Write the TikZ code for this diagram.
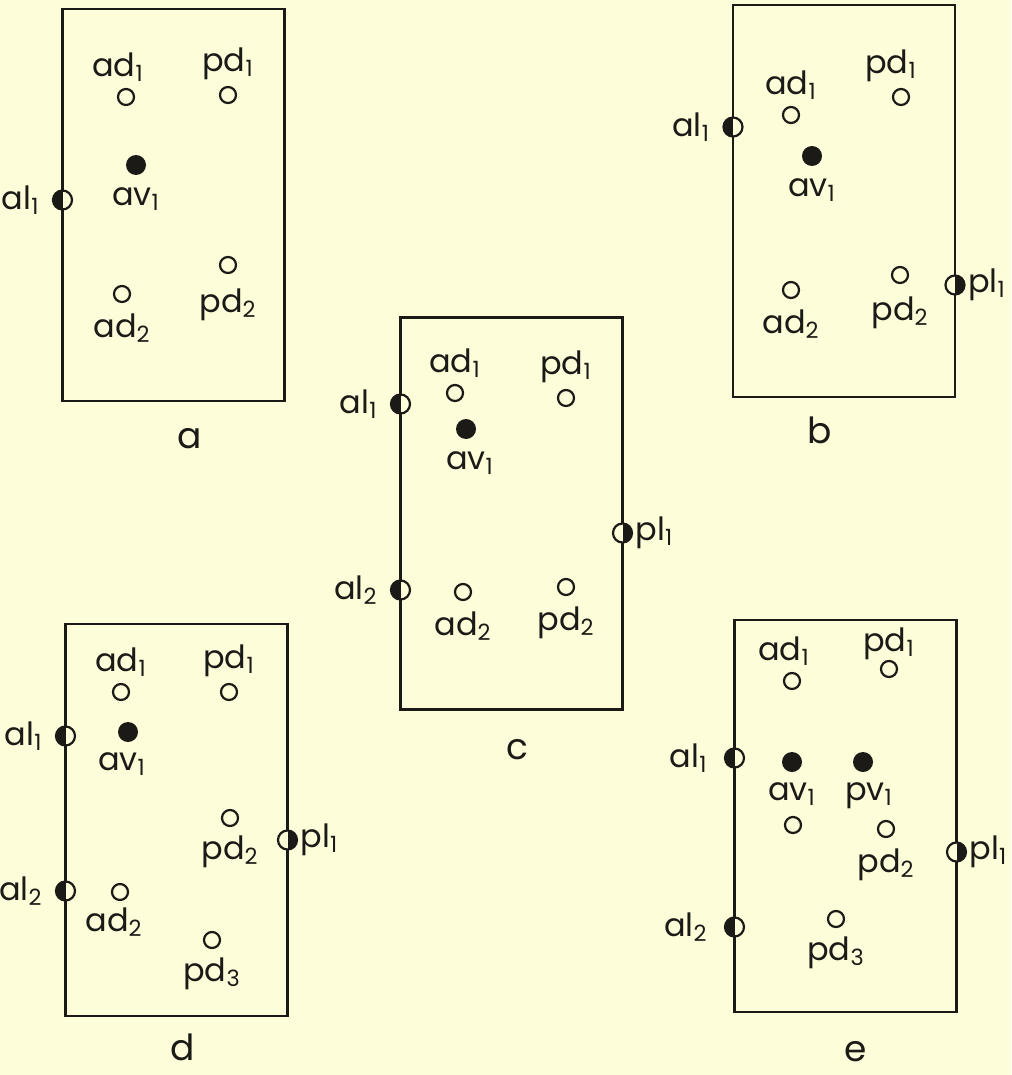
\documentclass[tikz,border=0pt]{standalone}
\usepackage{fontspec}
\setmainfont{Poppins}
\usetikzlibrary{positioning}
\definecolor{fond}{HTML}{FEFDDA}
\definecolor{encre}{HTML}{1C1A17}
\newcommand{\ind}[1]{\textsubscript{#1}}
\tikzset{
  cadre/.style={rectangle, draw=encre, line width=1.3pt, minimum width=111pt,
    minimum height=196pt, inner sep=0pt},
  vide/.style={circle, draw=encre, line width=1.1pt, fill=fond, minimum size=8pt, inner sep=0pt},
  plein/.style={circle, fill=encre, minimum size=10pt, inner sep=0pt},
  demig/.style={circle, draw=encre, line width=1.1pt, fill=fond, minimum size=9.5pt, inner sep=0pt,
    path picture={\fill[encre] (path picture bounding box.south west) rectangle (path picture bounding box.north);}},
  demid/.style={circle, draw=encre, line width=1.1pt, fill=fond, minimum size=9.5pt, inner sep=0pt,
    path picture={\fill[encre] (path picture bounding box.south) rectangle (path picture bounding box.north east);}},
  etiq/.style={font=\fontsize{16}{16}\selectfont, text=encre, inner sep=0pt},
  lettre/.style={font=\fontsize{18}{18}\selectfont, text=encre, inner sep=0pt}
}

\begin{document}
\begin{tikzpicture}[x=0.5pt, y=-0.5pt]
  \useasboundingbox[fill=fond] (0,0) rectangle (1011,1075);

  % a
  \node[cadre] (ca) at (173.5,205) {};
  \node[lettre, below=13pt of ca, xshift=8pt] (ta) {a};
  \node[vide] (a-ad1) at (126,97) {};
  \node[vide] (a-pd1) at (228,95) {};
  \node[plein] (a-av1) at (136,165) {};
  \node[demig] (a-al1) at (62.5,200) {};
  \node[vide] (a-ad2) at (122,294) {};
  \node[vide] (a-pd2) at (228,265) {};
  \node[etiq, above=3pt of a-ad1, xshift=-4pt] (a-ad1-t) {ad\ind{1}};
  \node[etiq, above=3pt of a-pd1] (a-pd1-t) {pd\ind{1}};
  \node[etiq, below=6pt of a-av1] (a-av1-t) {av\ind{1}};
  \node[etiq, left=6pt of a-al1] (a-al1-t) {al\ind{1}};
  \node[etiq, below=5pt of a-ad2] (a-ad2-t) {ad\ind{2}};
  \node[etiq, below=7pt of a-pd2] (a-pd2-t) {pd\ind{2}};

  % b
  \node[cadre] (cb) at (844,201) {};
  \node[lettre, below=9pt of cb, xshift=-12pt] (tb) {b};
  \node[vide] (b-ad1) at (791,115) {};
  \node[vide] (b-pd1) at (901,97) {};
  \node[demig] (b-al1) at (733,127) {};
  \node[plein] (b-av1) at (812,156) {};
  \node[vide] (b-ad2) at (791,290) {};
  \node[vide] (b-pd2) at (900,275) {};
  \node[demid] (b-pl1) at (955,285) {};
  \node[etiq, above=3pt of b-ad1] (b-ad1-t) {ad\ind{1}};
  \node[etiq, above=3pt of b-pd1, xshift=-5pt] (b-pd1-t) {pd\ind{1}};
  \node[etiq, left=6pt of b-al1] (b-al1-t) {al\ind{1}};
  \node[etiq, below=6pt of b-av1] (b-av1-t) {av\ind{1}};
  \node[etiq, below=5pt of b-ad2] (b-ad2-t) {ad\ind{2}};
  \node[etiq, below=6pt of b-pd2] (b-pd2-t) {pd\ind{2}};
  \node[etiq, right=1pt of b-pl1] (b-pl1-t) {pl\ind{1}};

  % c
  \node[cadre] (cc) at (511.5,513.5) {};
  \node[lettre, below=14pt of cc, xshift=3pt] (tc) {c};
  \node[vide] (c-ad1) at (455,393) {};
  \node[vide] (c-pd1) at (566,398) {};
  \node[demig] (c-al1) at (400.5,404) {};
  \node[plein] (c-av1) at (466,429) {};
  \node[demid] (c-pl1) at (622.5,533) {};
  \node[demig] (c-al2) at (400.5,590) {};
  \node[vide] (c-ad2) at (463,592) {};
  \node[vide] (c-pd2) at (566,587) {};
  \node[etiq, above=3pt of c-ad1] (c-ad1-t) {ad\ind{1}};
  \node[etiq, above=3pt of c-pd1] (c-pd1-t) {pd\ind{1}};
  \node[etiq, left=6pt of c-al1] (c-al1-t) {al\ind{1}};
  \node[etiq, below=6pt of c-av1, xshift=2pt] (c-av1-t) {av\ind{1}};
  \node[etiq, right=1pt of c-pl1] (c-pl1-t) {pl\ind{1}};
  \node[etiq, left=6pt of c-al2] (c-al2-t) {al\ind{2}};
  \node[etiq, below=5pt of c-ad2] (c-ad2-t) {ad\ind{2}};
  \node[etiq, below=5pt of c-pd2] (c-pd2-t) {pd\ind{2}};

  % d
  \node[cadre] (cd) at (176.5,820) {};
  \node[lettre, below=8pt of cd, xshift=3pt] (td) {d};
  \node[vide] (d-ad1) at (121,692) {};
  \node[vide] (d-pd1) at (229,692) {};
  \node[demig] (d-al1) at (65.5,736) {};
  \node[plein] (d-av1) at (128,732) {};
  \node[vide] (d-pd2) at (230,818) {};
  \node[demid] (d-pl1) at (287.5,840) {};
  \node[demig] (d-al2) at (65.5,891) {};
  \node[vide] (d-ad2) at (120,892) {};
  \node[vide] (d-pd3) at (212,940) {};
  \node[etiq, above=3pt of d-ad1] (d-ad1-t) {ad\ind{1}};
  \node[etiq, above=3pt of d-pd1] (d-pd1-t) {pd\ind{1}};
  \node[etiq, left=6pt of d-al1] (d-al1-t) {al\ind{1}};
  \node[etiq, below=5pt of d-av1, xshift=-3pt] (d-av1-t) {av\ind{1}};
  \node[etiq, below=4pt of d-pd2] (d-pd2-t) {pd\ind{2}};
  \node[etiq, right=1pt of d-pl1] (d-pl1-t) {pl\ind{1}};
  \node[etiq, left=6pt of d-al2] (d-al2-t) {al\ind{2}};
  \node[etiq, below=3pt of d-ad2, xshift=-3pt] (d-ad2-t) {ad\ind{2}};
  \node[etiq, below=4pt of d-pd3] (d-pd3-t) {pd\ind{3}};

  % e
  \node[cadre] (ce) at (845.5,816) {};
  \node[lettre, below=14pt of ce, xshift=5pt] (te) {e};
  \node[vide] (e-ad1) at (792,681) {};
  \node[vide] (e-pd1) at (889,669) {};
  \node[demig] (e-al1) at (734.5,758) {};
  \node[plein] (e-av1) at (792,762) {};
  \node[plein] (e-pv1) at (863,762) {};
  \node[vide] (e-ad2) at (793,825) {};
  \node[vide] (e-pd2) at (886,829) {};
  \node[demid] (e-pl1) at (956.5,852) {};
  \node[demig] (e-al2) at (734.5,927) {};
  \node[vide] (e-pd3) at (836,919) {};
  \node[etiq, above=3pt of e-ad1, xshift=-4pt] (e-ad1-t) {ad\ind{1}};
  \node[etiq, above=0pt of e-pd1] (e-pd1-t) {pd\ind{1}};
  \node[etiq, left=8pt of e-al1] (e-al1-t) {al\ind{1}};
  \node[etiq, below=5pt of e-av1] (e-av1-t) {av\ind{1}};
  \node[etiq, below=5pt of e-pv1, xshift=3pt] (e-pv1-t) {pv\ind{1}};
  \node[etiq, below=5pt of e-pd2] (e-pd2-t) {pd\ind{2}};
  \node[etiq, right=1pt of e-pl1] (e-pl1-t) {pl\ind{1}};
  \node[etiq, left=8pt of e-al2] (e-al2-t) {al\ind{2}};
  \node[etiq, below=4pt of e-pd3] (e-pd3-t) {pd\ind{3}};
\end{tikzpicture}
\end{document}
